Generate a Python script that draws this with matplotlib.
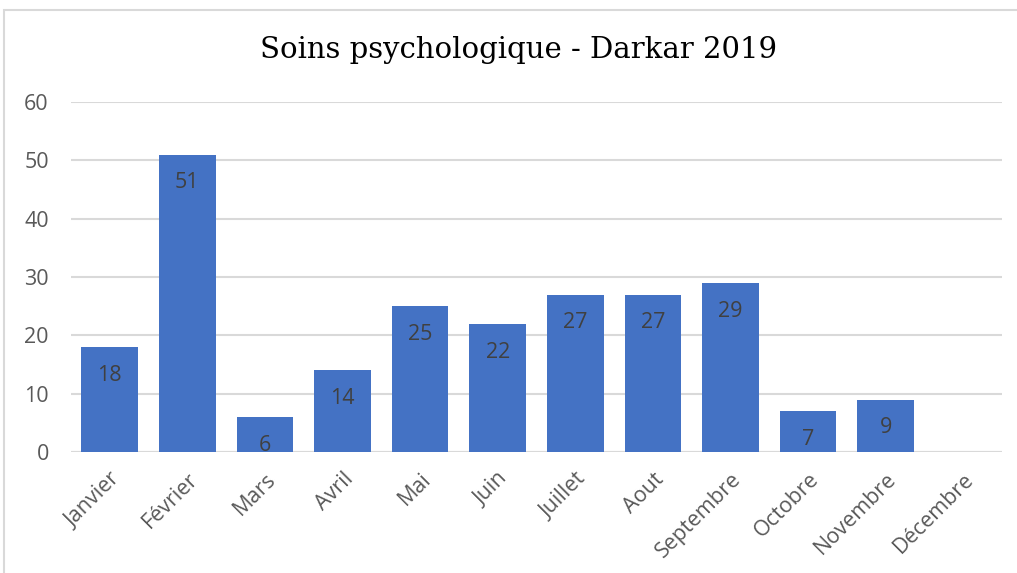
import matplotlib
matplotlib.use("Agg")
import matplotlib.pyplot as plt
import numpy as np
from matplotlib.patches import Rectangle

months = ["Janvier", "Février", "Mars", "Avril", "Mai", "Juin", "Juillet",
          "Aout", "Septembre", "Octobre", "Novembre", "Décembre"]
values = [18, 51, 6, 14, 25, 22, 27, 27, 29, 7, 9, np.nan]
yticks = [0, 10, 20, 30, 40, 50, 60]
title = "Soins psychologique - Darkar 2019"

W, H = 1017, 573
fig = plt.figure(figsize=(W / 100, H / 100), dpi=100)
fig.patch.set_facecolor("white")

# outer chart frame (cropped on right and bottom)
fig.patches.append(Rectangle((4 / W, -0.1), 1.2, (H - 10) / H + 0.1,
                             transform=fig.transFigure, fill=False,
                             edgecolor="#D9D9D9", linewidth=1.5))

ax = fig.add_axes([71 / W, 121 / H, (1002 - 71) / W, 350 / H])
x = np.arange(len(months))
ax.bar(x, np.nan_to_num(values), width=0.73, color="#4472C4", zorder=3)
ax.set_xlim(-0.5, len(months) - 0.5)
ax.set_ylim(0, 60)
ax.set_yticks(yticks)
ax.grid(axis="y", color="#D9D9D9", linewidth=1.5, zorder=0)
for s in ax.spines.values():
    s.set_visible(False)
ax.axhline(0, color="#D9D9D9", linewidth=1.5, zorder=2)
ax.tick_params(axis="both", length=0, colors="#595959", labelsize=15.5)
ax.tick_params(axis="y", pad=16)
for lbl in ax.get_yticklabels():
    lbl.set_fontfamily("Open Sans")

ax.set_xticks(x)
ax.set_xticklabels(months, rotation=45, ha="right", rotation_mode="anchor",
                   fontfamily="Open Sans", fontsize=15.5, color="#595959")
ax.tick_params(axis="x", pad=12)
for lbl in ax.get_xticklabels():
    lbl.set_x(lbl.get_position()[0])

for xi, v in zip(x, values):
    if not np.isnan(v):
        ax.annotate(f"{int(v)}", (xi, v), xytext=(0, -20.5), textcoords="offset points",
                    ha="center", va="center", fontsize=15.5, color="#404040",
                    fontfamily="Open Sans", zorder=4)

fig.text(519 / W, 1 - 50 / H, title, ha="center", va="center",
         fontsize=21, fontfamily="DejaVu Serif", color="black")

fig.savefig("out.png", dpi=100)
